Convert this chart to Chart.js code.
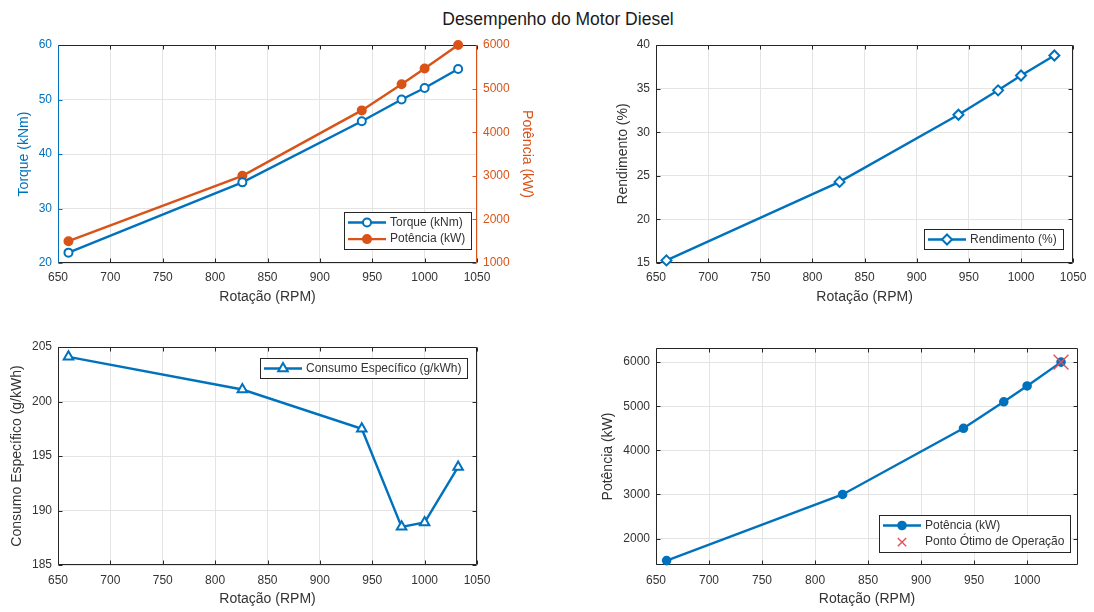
<!DOCTYPE html>
<html>
<head>
<meta charset="utf-8">
<script src="https://cdn.jsdelivr.net/npm/chart.js@4.4.0/dist/chart.umd.min.js"></script>
<style>
  body { margin: 0; background: #fff; width: 1094px; height: 612px; position: relative; overflow: hidden;
         font-family: "Liberation Sans", Arial, sans-serif; }
  .quadro { position: absolute; }
  #titulo { position: absolute; left: 558px; top: 9px; transform: translateX(-50%); white-space: nowrap;
            font-size: 17.5px; line-height: 20px; color: #1a1a1a; }
</style>
</head>
<body>
<div id="titulo">Desempenho do Motor Diesel</div>
<div class="quadro" style="left:0;top:30px;width:547px;height:282px"><canvas id="g1"></canvas></div>
<div class="quadro" style="left:547px;top:30px;width:547px;height:282px"><canvas id="g2"></canvas></div>
<div class="quadro" style="left:0;top:312px;width:547px;height:300px"><canvas id="g3"></canvas></div>
<div class="quadro" style="left:547px;top:312px;width:547px;height:300px"><canvas id="g4"></canvas></div>
<script>
// dados
const rpm = [660, 826, 940, 978, 1000, 1032];
const torque = [21.9, 34.8, 46.0, 50.0, 52.1, 55.6];
const potencia = [1500, 3000, 4500, 5100, 5460, 6000];
const rendimento = [15.3, 24.3, 32.0, 34.8, 36.5, 38.8];
const consumo = [204.1, 201.1, 197.5, 188.5, 188.9, 194.0];
const pontoOtimoRpm = [1032];
const pontoOtimoKw = [6000];

// marcas dos eixos
const rpmTicks = [650, 700, 750, 800, 850, 900, 950, 1000, 1050];
const rpmTicks4 = [650, 700, 750, 800, 850, 900, 950, 1000];
const torqueTicks = [20, 30, 40, 50, 60];
const potenciaTicks = [1000, 2000, 3000, 4000, 5000, 6000];
const rendimentoTicks = [15, 20, 25, 30, 35, 40];
const consumoTicks = [185, 190, 195, 200, 205];
const potenciaTicks4 = [2000, 3000, 4000, 5000, 6000];

const AZUL = '#0072BD';
const LARANJA = '#D95319';
const TEXTO = '#333333';
const GRADE = '#e4e4e4';
const FONTE = '"Liberation Sans", Arial, sans-serif';

Chart.defaults.font.family = FONTE;

const pontos = (xs, ys) => xs.map((x, i) => ({ x: x, y: ys[i] }));

const eixo = (pos, min, max, ticks, titulo, cor, tam, tituloPad, tickPad, grade) => ({
  type: 'linear',
  position: pos,
  min: min,
  max: max,
  afterBuildTicks: s => { s.ticks = ticks.map(v => ({ value: v })); },
  afterFit: s => { if (pos === 'bottom') s.height = tam; else s.width = tam; },
  grid: { display: grade !== false, color: GRADE, drawTicks: false, lineWidth: 1 },
  border: { display: false },
  ticks: { color: cor, font: { size: 12 }, padding: tickPad, maxRotation: 0, autoSkip: false,
           callback: v => String(v) },
  title: { display: true, text: titulo, color: cor, font: { size: 14 },
           padding: pos === 'bottom' ? { top: 0, bottom: tituloPad } : { top: tituloPad, bottom: 0 } }
});

// desenha um marcador simples (legenda)
const marcador = (ctx, estilo, x, y, r, fundo, borda, lw) => {
  ctx.beginPath();
  if (estilo === 'rectRot') {
    ctx.moveTo(x, y - r); ctx.lineTo(x + r, y); ctx.lineTo(x, y + r); ctx.lineTo(x - r, y); ctx.closePath();
  } else if (estilo === 'triangle') {
    ctx.moveTo(x, y - r); ctx.lineTo(x + r * 0.87, y + r * 0.5); ctx.lineTo(x - r * 0.87, y + r * 0.5); ctx.closePath();
  } else if (estilo === 'crossRot') {
    ctx.moveTo(x - r * 0.7, y - r * 0.7); ctx.lineTo(x + r * 0.7, y + r * 0.7);
    ctx.moveTo(x + r * 0.7, y - r * 0.7); ctx.lineTo(x - r * 0.7, y + r * 0.7);
  } else {
    ctx.arc(x, y, r, 0, Math.PI * 2);
  }
  if (estilo !== 'crossRot') { ctx.fillStyle = fundo; ctx.fill(); }
  ctx.strokeStyle = borda; ctx.lineWidth = lw; ctx.stroke();
};

// caixa do eixo com marcas para dentro, estilo matlab
const caixaMatlab = {
  id: 'caixaMatlab',
  beforeDatasetsDraw(chart, args, o) {
    const { ctx, chartArea: a, scales } = chart;
    const L = Math.round(a.left) + 0.5, R = Math.round(a.right) - 0.5;
    const T = Math.round(a.top) + 0.5, B = Math.round(a.bottom) - 0.5;
    const tl = 4;
    const linha = (x1, y1, x2, y2, cor) => {
      ctx.strokeStyle = cor; ctx.beginPath(); ctx.moveTo(x1, y1); ctx.lineTo(x2, y2); ctx.stroke();
    };
    ctx.save();
    ctx.lineWidth = 1;
    const escuro = '#262626';
    scales.x.ticks.forEach(t => {
      const px = Math.round(scales.x.getPixelForValue(t.value)) + 0.5;
      linha(px, B, px, B - tl, escuro);
      linha(px, T, px, T + tl, escuro);
    });
    const esq = o.esquerda || escuro, dir = o.direita || escuro;
    const yE = scales.y, yD = scales.yR || scales.y;
    yE.ticks.forEach(t => {
      const py = Math.round(yE.getPixelForValue(t.value)) + 0.5;
      linha(L, py, L + tl, py, esq);
    });
    yD.ticks.forEach(t => {
      const py = Math.round(yD.getPixelForValue(t.value)) + 0.5;
      linha(R, py, R - tl, py, dir);
    });
    linha(L, T, R, T, escuro);
    linha(L, B, R, B, escuro);
    linha(L, T, L, B, esq);
    linha(R, T, R, B, dir);
    ctx.restore();
  }
};

// legenda em caixa dentro da area do grafico
const legendaCaixa = {
  id: 'legendaCaixa',
  afterDraw(chart, args, o) {
    if (!o.canto) return;
    const ctx = chart.ctx, a = chart.chartArea;
    const itens = chart.data.datasets;
    ctx.save();
    ctx.font = '12px ' + FONTE;
    const larg = Math.max(...itens.map(d => ctx.measureText(d.label).width));
    const w = Math.round(4 + 38 + 4 + larg + 6);
    const h = Math.round(itens.length * 16.6 + 3.5);
    const x0 = Math.round(a.right - o.dx - w);
    const y0 = Math.round(o.canto === 'baixo' ? a.bottom - o.dy - h : a.top + o.dy);
    ctx.fillStyle = '#fff';
    ctx.fillRect(x0, y0, w, h);
    ctx.strokeStyle = '#262626';
    ctx.lineWidth = 1;
    ctx.strokeRect(x0 + 0.5, y0 + 0.5, w, h);
    itens.forEach((d, i) => {
      const cy = y0 + 10.5 + i * 16.6;
      if (d.showLine !== false) {
        ctx.strokeStyle = d.borderColor; ctx.lineWidth = d.borderWidth;
        ctx.beginPath(); ctx.moveTo(x0 + 4, cy); ctx.lineTo(x0 + 42, cy); ctx.stroke();
      }
      marcador(ctx, d.pointStyle, x0 + 23, cy, d.raioLegenda || d.pointRadius,
               d.pointBackgroundColor, d.pointBorderColor, d.pointBorderWidth);
      ctx.fillStyle = TEXTO;
      ctx.textBaseline = 'middle';
      ctx.textAlign = 'left';
      ctx.fillText(d.label, x0 + 46, cy);
    });
    ctx.restore();
  }
};

const serie = (label, dados, cor, estilo, raio, fundo, extra) => Object.assign({
  label: label,
  data: dados,
  borderColor: cor,
  borderWidth: 2.4,
  pointStyle: estilo,
  pointRadius: raio,
  pointBackgroundColor: fundo,
  pointBorderColor: cor,
  pointBorderWidth: 2,
  tension: 0,
  clip: false
}, extra || {});

const base = (padding, plugins) => ({
  responsive: true,
  maintainAspectRatio: false,
  animation: false,
  devicePixelRatio: 1,
  events: [],
  layout: { padding: padding },
  plugins: Object.assign({ legend: { display: false }, tooltip: { enabled: false } }, plugins)
});

// 1: torque e potencia
new Chart(document.getElementById('g1'), {
  type: 'line',
  data: {
    datasets: [
      serie('Torque (kNm)', pontos(rpm, torque), AZUL, 'circle', 4, '#fff', { yAxisID: 'y' }),
      serie('Potência (kW)', pontos(rpm, potencia), LARANJA, 'circle', 4, LARANJA, { yAxisID: 'yR' })
    ]
  },
  options: Object.assign(base({ top: 15, right: 0, bottom: 0, left: 0 },
    { caixaMatlab: { esquerda: AZUL, direita: LARANJA }, legendaCaixa: { canto: 'baixo', dx: 6, dy: 14 } }), {
    scales: {
      x: eixo('bottom', 650, 1050, rpmTicks, 'Rotação (RPM)', TEXTO, 49, 6.6, 7.5),
      y: eixo('left', 20, 60, torqueTicks, 'Torque (kNm)', AZUL, 58, 15.6, 6),
      yR: eixo('right', 1000, 6000, potenciaTicks, 'Potência (kW)', LARANJA, 70, 11.6, 6, false)
    }
  }),
  plugins: [caixaMatlab, legendaCaixa]
});

// 2: rendimento
new Chart(document.getElementById('g2'), {
  type: 'line',
  data: {
    datasets: [serie('Rendimento (%)', pontos(rpm, rendimento), AZUL, 'rectRot', 5, '#fff')]
  },
  options: Object.assign(base({ top: 15, right: 16, bottom: 0, left: 0 },
    { caixaMatlab: {}, legendaCaixa: { canto: 'baixo', dx: 10, dy: 14 } }), {
    scales: {
      x: eixo('bottom', 650, 1050, rpmTicks, 'Rotação (RPM)', TEXTO, 49, 6.6, 7.5),
      y: eixo('left', 15, 40, rendimentoTicks, 'Rendimento (%)', TEXTO, 109, 67.6, 6)
    }
  }),
  plugins: [caixaMatlab, legendaCaixa]
});

// 3: consumo especifico
new Chart(document.getElementById('g3'), {
  type: 'line',
  data: {
    datasets: [serie('Consumo Específico (g/kWh)', pontos(rpm, consumo), AZUL, 'triangle', 5.5, '#fff')]
  },
  options: Object.assign(base({ top: 35, right: 70, bottom: 0, left: 0 },
    { caixaMatlab: {}, legendaCaixa: { canto: 'cima', dx: 10, dy: 11 } }), {
    scales: {
      x: eixo('bottom', 650, 1050, rpmTicks, 'Rotação (RPM)', TEXTO, 47, 4.6, 8),
      y: eixo('left', 185, 205, consumoTicks, 'Consumo Específico (g/kWh)', TEXTO, 58, 8.6, 6)
    }
  }),
  plugins: [caixaMatlab, legendaCaixa]
});

// 4: potencia com ponto otimo
new Chart(document.getElementById('g4'), {
  type: 'line',
  data: {
    datasets: [
      serie('Potência (kW)', pontos(rpm, potencia), AZUL, 'circle', 3.8, AZUL, { order: 1 }),
      serie('Ponto Ótimo de Operação', pontos(pontoOtimoRpm, pontoOtimoKw), '#e4505a', 'crossRot', 10.5, '#e4505a',
            { order: 0, showLine: false, pointBorderWidth: 1.4, raioLegenda: 6 })
    ]
  },
  options: Object.assign(base({ top: 36, right: 16, bottom: 0, left: 0 },
    { caixaMatlab: {}, legendaCaixa: { canto: 'baixo', dx: 8, dy: 13 } }), {
    scales: {
      x: eixo('bottom', 650, 1048, rpmTicks4, 'Rotação (RPM)', TEXTO, 47, 4.6, 8),
      y: eixo('left', 1400, 6320, potenciaTicks4, 'Potência (kW)', TEXTO, 109, 52.6, 6)
    }
  }),
  plugins: [caixaMatlab, legendaCaixa]
});
</script>
</body>
</html>
